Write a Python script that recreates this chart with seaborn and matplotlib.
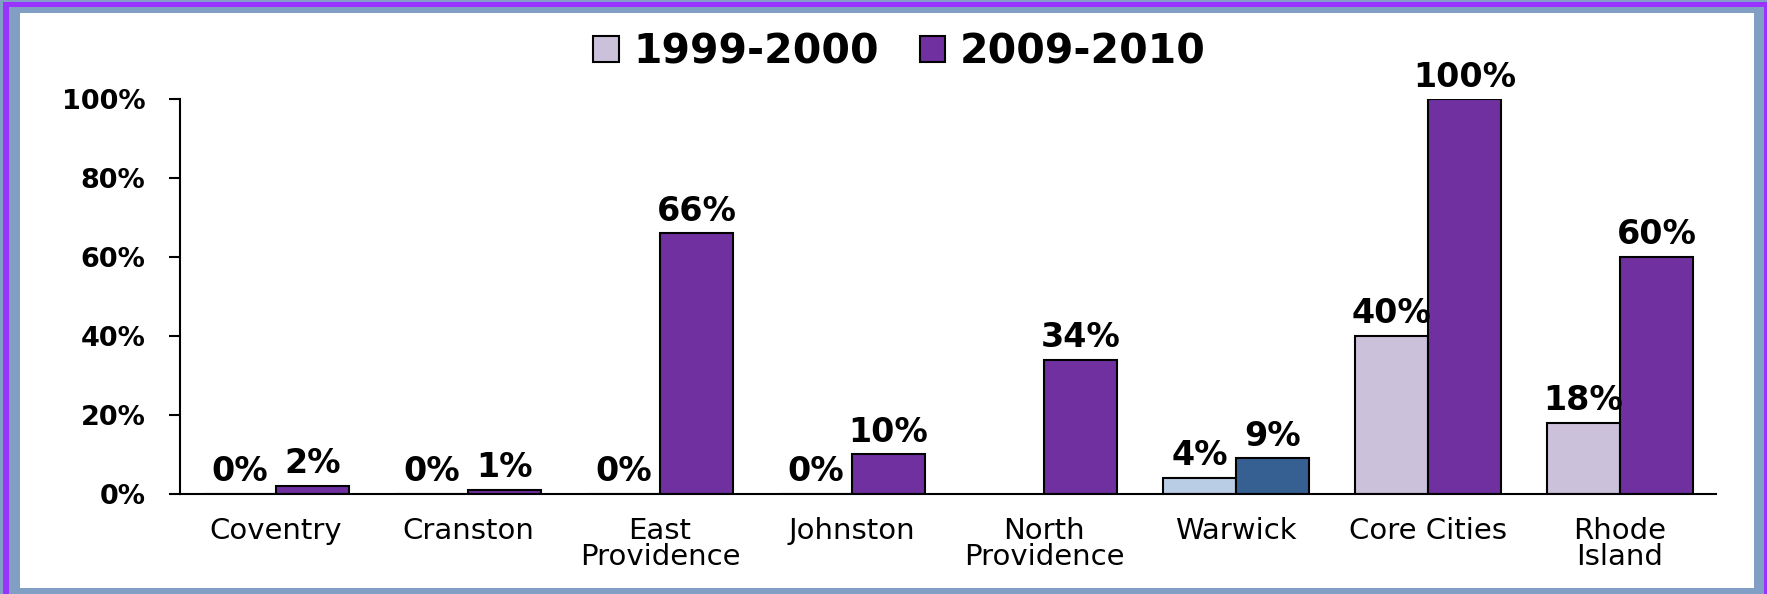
import numpy as np
import pandas as pd
import matplotlib
matplotlib.use("Agg")
import matplotlib.pyplot as plt
from matplotlib.patches import Rectangle
import seaborn as sns

# ---------------- data ----------------
categories = ["Coventry", "Cranston", "East\nProvidence", "Johnston",
              "North\nProvidence", "Warwick", "Core Cities", "Rhode\nIsland"]
period_labels = ["1999-2000", "2009-2010"]
values_1999 = [0, 0, 0, 0, np.nan, 4, 40, 18]
values_2009 = [2, 1, 66, 10, 34, 9, 100, 60]
y_ticks = [0, 20, 40, 60, 80, 100]
y_tick_labels = ["0%", "20%", "40%", "60%", "80%", "100%"]

df = pd.DataFrame({
    "Community": categories * 2,
    "Period": [period_labels[0]] * len(categories) + [period_labels[1]] * len(categories),
    "Value": values_1999 + values_2009,
})

# ---------------- style ----------------
sns.set_style("white")
plt.rcParams["font.family"] = ["DejaVu Sans"]
plt.rcParams["text.color"] = "black"
plt.rcParams["xtick.color"] = "black"
plt.rcParams["ytick.color"] = "black"
plt.rcParams["axes.labelcolor"] = "black"

W, H = 1767, 594
fig = plt.figure(figsize=(W / 100, H / 100), dpi=100)
fig.patch.set_facecolor("#819FC4")

# frame bands
def px_rect(x0, y0_top, x1, y1_bottom, color, z):
    r = Rectangle((x0 / W, 1 - y1_bottom / H), (x1 - x0) / W, (y1_bottom - y0_top) / H,
                  transform=fig.transFigure, facecolor=color, edgecolor="none", zorder=z)
    fig.add_artist(r)

px_rect(3, 2, W + 20, H + 20, "#9933FF", -30)
px_rect(9, 7, 1764, H + 20, "#819FC4", -29)
px_rect(20, 13, 1754, 588, "white", -28)

ax = fig.add_axes([180 / W, 1 - 493.6 / H, (1716 - 180) / W, (493.6 - 99.2) / H])
ax.set_facecolor("white")

palette = {period_labels[0]: "#CCC1DA", period_labels[1]: "#7030A0"}
sns.barplot(data=df, x="Community", y="Value", hue="Period", order=categories,
            hue_order=period_labels, palette=palette, width=0.76, errorbar=None,
            edgecolor="black", linewidth=1.5, saturation=1, ax=ax)

# Warwick highlighted in blue tones
warwick_idx = categories.index("Warwick")
for bar in ax.patches:
    cx = bar.get_x() + bar.get_width() / 2
    if abs(cx - warwick_idx) < 0.5:
        bar.set_facecolor("#B9CDE5" if cx < warwick_idx else "#376092")

# value labels
for cont in ax.containers:
    ax.bar_label(cont, fmt=lambda v: "" if np.isnan(v) else f"{v:.0f}%",
                 padding=4, fontsize=24, fontweight="bold", color="black")

# axes
ax.set_xlim(-0.5, len(categories) - 0.5)
ax.set_ylim(0, 100)
ax.set_xlabel("")
ax.set_ylabel("")
ax.set_yticks(y_ticks)
ax.set_yticklabels(y_tick_labels, fontsize=19.5, fontweight="bold", color="black")
ax.set_xticks(range(len(categories)))
ax.set_xticklabels(categories, fontsize=21, linespacing=0.88, color="black")
ax.set_xticks(np.arange(-0.5, len(categories), 1), minor=True)
ax.tick_params(axis="x", which="major", length=0, pad=17)
ax.tick_params(axis="x", which="minor", length=8, width=1.5, direction="out", color="black")
ax.tick_params(axis="y", which="major", length=8, width=1.5, direction="out", pad=17,
               color="black", left=True)
for s in ["top", "right"]:
    ax.spines[s].set_visible(False)
for s in ["left", "bottom"]:
    ax.spines[s].set_color("black")
    ax.spines[s].set_linewidth(1.5)

# legend
leg = ax.get_legend()
handles = leg.legend_handles
labels = [t.get_text() for t in leg.texts]
leg.remove()
for h in handles:
    h.set_edgecolor("black")
    h.set_linewidth(1.5)
fig.legend(handles, labels, loc="center", bbox_to_anchor=(0.509, 0.912),
           ncol=2, frameon=False, prop={"size": 29.5, "weight": "bold"},
           handlelength=0.62, handleheight=0.62, handletextpad=0.35,
           columnspacing=1.0, borderaxespad=0, labelcolor="black")

fig.savefig("out.png", dpi=100, facecolor=fig.get_facecolor())
